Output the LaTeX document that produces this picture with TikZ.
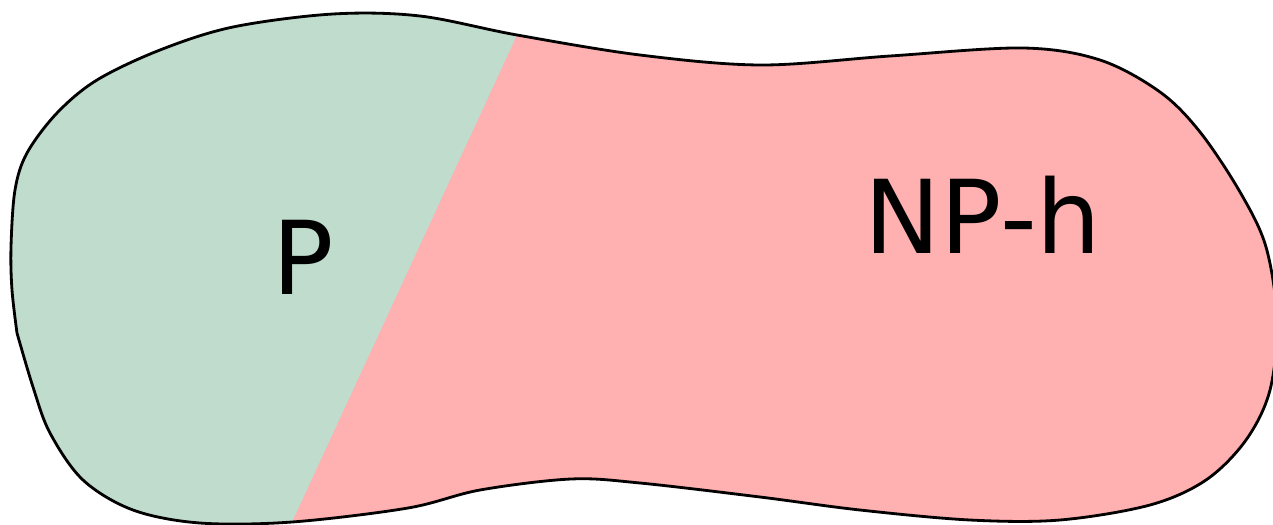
\documentclass[tikz,border=0pt]{standalone}
\usepackage{fontspec}
\setmainfont{DejaVu Sans}
\usepackage{tikz}
\usetikzlibrary{positioning,calc}

\definecolor{pgreen}{HTML}{C0DCCD}
\definecolor{npred}{HTML}{FFB0B0}

\begin{document}
\begin{tikzpicture}[x=0.02cm,y=-0.02cm,
                    region/.style={font=\fontsize{58}{60}\selectfont, inner sep=0pt},
                    outline/.style={draw=black, line width=1.6pt}]
  \useasboundingbox (0,0) rectangle (1273,524);
  % the outline has one corner, on the left side
  \def\blob{plot[smooth, tension=0.55] coordinates {
      (17,333) (12,290) (11,247) (15,190) (27,153) (57,113) (97,80)
      (160,50) (233,27) (333,14) (420,16) (517,35) (640,55) (761,65)
      (890,56) (1023,48) (1100,60) (1160,92) (1200,132) (1240,192)
      (1266,247) (1277,320) (1270,390) (1246,440) (1206,480) (1150,505)
      (1060,520) (970,520) (860,510) (760,497) (640,483) (571,479)
      (480,490) (408,508) (292,522) (200,523) (133,510) (83,480)
      (50,433) (33,387) (17,333)} -- cycle}
  \coordinate (top) at (517,35);
  \coordinate (bot) at (292,522);
  \begin{scope}
    \clip \blob;
    \fill[npred] (-10,-10) rectangle (1290,540);
    \fill[pgreen] (-10,-10) -- ($(top)!-0.1!(bot)$) -- ($(bot)!-0.1!(top)$) -- (-10,540) -- cycle;
  \end{scope}
  \draw[outline] \blob;
  \node[region] (P)  at (303,257) {P};
  \node[region] (NP) at (983,215) {NP-h};
\end{tikzpicture}
\end{document}
